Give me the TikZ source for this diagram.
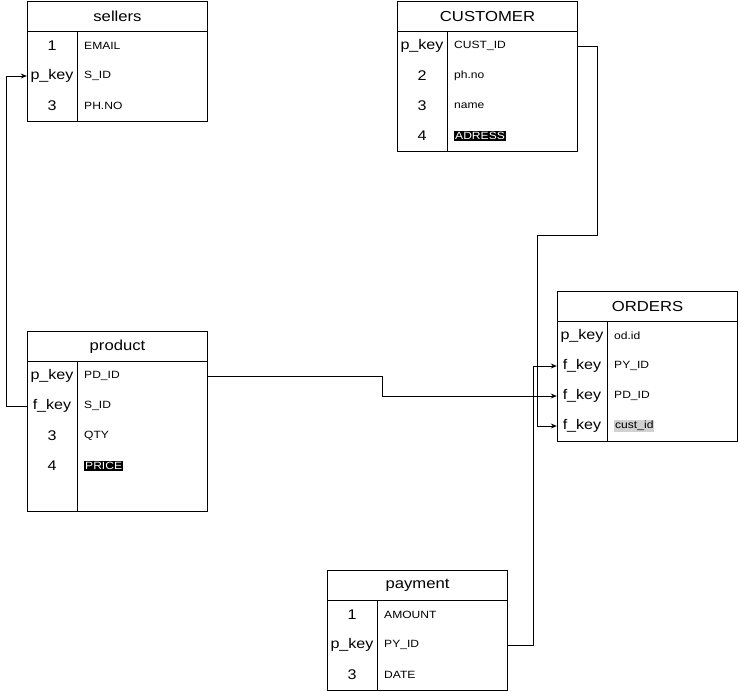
\documentclass[tikz,border=0pt]{standalone}
\usepackage{fontspec}
\setmainfont{Liberation Sans}[FakeStretch=1.15]
\usepackage{tikz}
\usetikzlibrary{arrows.meta, positioning, calc}

\begin{document}
\begin{tikzpicture}[
    x=1pt, y=-1pt,
    tbl/.style={draw, line width=1pt, minimum width=180pt, anchor=north west, inner sep=0pt},
    thead/.style={draw, line width=1pt, minimum width=180pt, minimum height=30pt, anchor=north west, inner sep=0pt, font=\fontsize{14.5}{14.5}\selectfont},
    keycell/.style={minimum width=50pt, minimum height=30pt, inner sep=0pt, font=\fontsize{14}{14}\selectfont},
    fieldcell/.style={anchor=west, inner sep=0pt, font=\fontsize{10.5}{11}\selectfont},
    hlblack/.style={fill=black, text=white, inner sep=1pt},
    hlgray/.style={fill=black!18, inner sep=1pt},
    coldiv/.style={line width=1pt},
    link/.style={line width=1pt, -{Stealth[length=6pt, width=5pt]}},
]
    \useasboundingbox (0,0) rectangle (738,691);

    % sellers
    \node[tbl, minimum height=120pt] (sellers) at (27,1) {};
    \node[thead] (sellers-h) at (27,1) {sellers};
    \draw[coldiv] ($(sellers-h.south west)+(50,0)$) -- ($(sellers.south west)+(50,0)$);
    \node[keycell] (sellers-k1) at (52,46) {1};
    \node[keycell] (sellers-k2) at (52,76) {p\_key};
    \node[keycell] (sellers-k3) at (52,106) {3};
    \node[fieldcell] (sellers-f1) at (84,46) {EMAIL};
    \node[fieldcell] (sellers-f2) at (84,76) {S\_ID};
    \node[fieldcell] (sellers-f3) at (84,106) {PH.NO};

    % CUSTOMER
    \node[tbl, minimum height=150pt] (customer) at (397,1) {};
    \node[thead] (customer-h) at (397,1) {CUSTOMER};
    \draw[coldiv] ($(customer-h.south west)+(50,0)$) -- ($(customer.south west)+(50,0)$);
    \node[keycell] (customer-k1) at (422,46) {p\_key};
    \node[keycell] (customer-k2) at (422,76) {2};
    \node[keycell] (customer-k3) at (422,106) {3};
    \node[keycell] (customer-k4) at (422,136) {4};
    \node[fieldcell] (customer-f1) at (454,46) {CUST\_ID};
    \node[fieldcell] (customer-f2) at (454,76) {ph.no};
    \node[fieldcell] (customer-f3) at (454,106) {name};
    \node[fieldcell, hlblack] (customer-f4) at (454,136) {ADRESS};

    % ORDERS
    \node[tbl, minimum height=150pt] (orders) at (557,291) {};
    \node[thead] (orders-h) at (557,291) {ORDERS};
    \draw[coldiv] ($(orders-h.south west)+(50,0)$) -- ($(orders.south west)+(50,0)$);
    \node[keycell] (orders-k1) at (582,336) {p\_key};
    \node[keycell] (orders-k2) at (582,366) {f\_key};
    \node[keycell] (orders-k3) at (582,396) {f\_key};
    \node[keycell] (orders-k4) at (582,426) {f\_key};
    \node[fieldcell] (orders-f1) at (614,336) {od.id};
    \node[fieldcell] (orders-f2) at (614,366) {PY\_ID};
    \node[fieldcell] (orders-f3) at (614,396) {PD\_ID};
    \node[fieldcell, hlgray] (orders-f4) at (614,426) {cust\_id};

    % product
    \node[tbl, minimum height=180pt] (product) at (27,331) {};
    \node[thead] (product-h) at (27,331) {product};
    \draw[coldiv] ($(product-h.south west)+(50,0)$) -- ($(product.south west)+(50,0)$);
    \node[keycell] (product-k1) at (52,376) {p\_key};
    \node[keycell] (product-k2) at (52,406) {f\_key};
    \node[keycell] (product-k3) at (52,436) {3};
    \node[keycell] (product-k4) at (52,466) {4};
    \node[fieldcell] (product-f1) at (84,376) {PD\_ID};
    \node[fieldcell] (product-f2) at (84,406) {S\_ID};
    \node[fieldcell] (product-f3) at (84,436) {QTY};
    \node[fieldcell, hlblack] (product-f4) at (84,466) {PRICE};

    % payment
    \node[tbl, minimum height=120pt] (payment) at (327,570) {};
    \node[thead] (payment-h) at (327,570) {payment};
    \draw[coldiv] ($(payment-h.south west)+(50,0)$) -- ($(payment.south west)+(50,0)$);
    \node[keycell] (payment-k1) at (352,615) {1};
    \node[keycell] (payment-k2) at (352,645) {p\_key};
    \node[keycell] (payment-k3) at (352,675) {3};
    \node[fieldcell] (payment-f1) at (384,615) {AMOUNT};
    \node[fieldcell] (payment-f2) at (384,645) {PY\_ID};
    \node[fieldcell] (payment-f3) at (384,675) {DATE};

    % relations
    \coordinate (pdbend) at (382,0);
    \coordinate (custbend) at (597,235);
    \coordinate (custdrop) at (537,0);
    \coordinate (paybend) at (533,0);
    \draw[link] (product-k2.west) -- ++(-20,0) |- (sellers-k2.west);
    \draw[link] (product.east |- product-f1) -| (pdbend |- orders-k3) -- (orders-k3.west);
    \draw[link] (customer.east |- customer-f1) -| (custbend) -| (custdrop |- orders-k4) -- (orders-k4.west);
    \draw[link] (payment.east |- payment-f2) -| (paybend |- orders-k2) -- (orders-k2.west);
\end{tikzpicture}
\end{document}
